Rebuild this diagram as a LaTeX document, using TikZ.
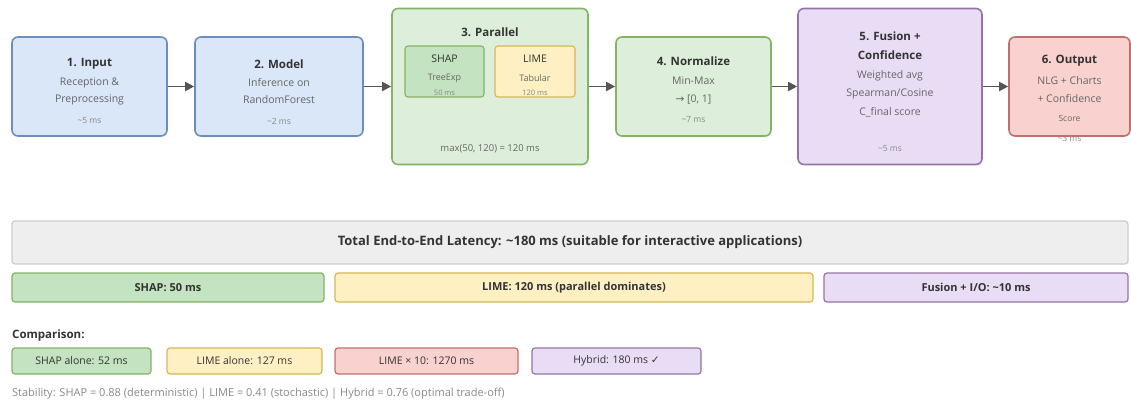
\documentclass[tikz,border=0pt]{standalone}
\usepackage{fontspec}
\setmainfont{Open Sans}
\newfontfamily\symfont{DejaVu Sans}
\usetikzlibrary{arrows.meta}
\usetikzlibrary{positioning}

\definecolor{blueFill}{HTML}{D9E7F8}
\definecolor{blueLine}{HTML}{6C8EBF}
\definecolor{greenFill}{HTML}{DDEFDA}
\definecolor{greenLine}{HTML}{82B366}
\definecolor{shapFill}{HTML}{C4E3C1}
\definecolor{limeFill}{HTML}{FFF0C4}
\definecolor{limeLine}{HTML}{D6B656}
\definecolor{purpleFill}{HTML}{E9DDF6}
\definecolor{purpleLine}{HTML}{9673A6}
\definecolor{redFill}{HTML}{F9D2D0}
\definecolor{redLine}{HTML}{C0706C}
\definecolor{greyFill}{HTML}{EEEEEE}
\definecolor{greyLine}{HTML}{CCCCCC}
\definecolor{arrowGrey}{HTML}{555555}
\definecolor{ink}{HTML}{333333}
\definecolor{softink}{HTML}{666666}
\definecolor{paleink}{HTML}{888888}

\tikzset{stage/.style={draw, rounded corners=6pt, line width=1.6pt, inner sep=0pt}}
\tikzset{subbox/.style={draw, rounded corners=3pt, line width=1.1pt, inner sep=0pt}}
\tikzset{bar/.style={draw, rounded corners=3pt, line width=1.2pt, inner sep=0pt}}
\tikzset{ttl/.style={text=ink, inner sep=0pt, font=\bfseries\fontsize{11.5}{14}\selectfont}}
\tikzset{txt/.style={text=softink, inner sep=0pt, font=\fontsize{10.5}{12}\selectfont}}
\tikzset{ms/.style={text=paleink, inner sep=0pt, font=\fontsize{8.5}{10}\selectfont}}
\tikzset{flow/.style={draw=arrowGrey, line width=1.8pt, -{Triangle[length=9pt,width=9pt]}}}

\begin{document}
\begin{tikzpicture}[x=1pt,y=-1pt]
  \useasboundingbox (0,0) rectangle (1131,403);

  % pipeline stages
  \foreach \x/\w/\h/\fc/\dc/\lab in {
    89.5/155/99/blueFill/blueLine/input,
    279/168/99/blueFill/blueLine/model,
    490/196/156/greenFill/greenLine/parallel,
    693.5/155/99/greenFill/greenLine/normalize,
    890/184/156/purpleFill/purpleLine/fusion,
    1069.5/121/99/redFill/redLine/output%
  } {
    \node[stage, fill=\fc, draw=\dc, minimum width=\w pt, minimum height=\h pt] (\lab) at (\x, 86.5) {};
  }
  \foreach \u/\v in {
    input/model,
    model/parallel,
    parallel/normalize,
    normalize/fusion,
    fusion/output%
  }{
    \draw[flow] (\u) -- (\v);
  }

  \node[ttl] (input-t) at (89.5,64) {1. Input};
  \node[txt] (input-a) at (89.5,83) {Reception \&};
  \node[txt] (input-b) at (89.5,100) {Preprocessing};
  \node[ms] (input-ms) at (89.5,121) {\textasciitilde5 ms};

  \node[ttl] (model-t) at (279,64) {2. Model};
  \node[txt] (model-a) at (279,83) {Inference on};
  \node[txt] (model-b) at (279,100) {RandomForest};
  \node[ms] (model-ms) at (279,121) {\textasciitilde2 ms};

  \node[ttl] (parallel-t) at (490,32) {3. Parallel};
  \node[subbox, fill=shapFill, draw=greenLine, minimum width=79pt, minimum height=51pt] (shap) at (444.5,71.5) {};
  \node[subbox, fill=limeFill, draw=limeLine, minimum width=80pt, minimum height=51pt] (lime) at (535,71.5) {};
  \node[txt, text=ink, font=\fontsize{10.5}{12}\selectfont] (shap-t) at (444.5,59) {SHAP};
  \node[ms, text=softink, font=\fontsize{9}{10}\selectfont] (shap-a) at (444.5,78) {TreeExp};
  \node[ms, font=\fontsize{7.5}{9}\selectfont] (shap-ms) at (444.5,93) {50 ms};
  \node[txt, text=ink, font=\fontsize{10.5}{12}\selectfont] (lime-t) at (535,59) {LIME};
  \node[ms, text=softink, font=\fontsize{9}{10}\selectfont] (lime-a) at (535,78) {Tabular};
  \node[ms, font=\fontsize{7.5}{9}\selectfont] (lime-ms) at (535,93) {120 ms};
  \node[ms, text=softink, font=\fontsize{9.5}{11}\selectfont] (parallel-ms) at (490,149) {max(50, 120) = 120 ms};

  \node[ttl] (normalize-t) at (693.5,61) {4. Normalize};
  \node[txt] (normalize-a) at (693.5,81) {Min-Max};
  \node[txt] (normalize-b) at (693.5,100) {{\symfont →} [0, 1]};
  \node[ms] (normalize-ms) at (693.5,120) {\textasciitilde7 ms};

  \node[ttl] (fusion-t) at (890,36) {5. Fusion +};
  \node[ttl] (fusion-u) at (890,55) {Confidence};
  \node[txt] (fusion-a) at (890,76) {Weighted avg};
  \node[txt] (fusion-b) at (890,94) {Spearman/Cosine};
  \node[txt] (fusion-c) at (890,112) {C\_final score};
  \node[ms] (fusion-ms) at (890,149) {\textasciitilde5 ms};

  \node[ttl] (output-t) at (1069.5,61) {6. Output};
  \node[txt] (output-a) at (1069.5,81) {NLG + Charts};
  \node[txt] (output-b) at (1069.5,99) {+ Confidence};
  \node[ms, text=softink, font=\fontsize{8.5}{10}\selectfont] (output-c) at (1069.5,118) {Score};
  \node[ms] (output-ms) at (1069.5,138) {\textasciitilde3 ms};

  % latency summary
  \node[bar, fill=greyFill, draw=greyLine, minimum width=1116pt, minimum height=43pt,
    text=ink, font=\bfseries\fontsize{13}{15}\selectfont] (total) at (570,242.5)
    {Total End-to-End Latency: \textasciitilde180 ms (suitable for interactive applications)};
  \foreach \x/\w/\fc/\dc/\lab/\txt in {
    168/312/shapFill/greenLine/shapbar/{SHAP: 50 ms},
    574/478/limeFill/limeLine/limebar/{LIME: 120 ms (parallel dominates)},
    976/304/purpleFill/purpleLine/fusionbar/{Fusion + I/O: \textasciitilde10 ms}%
  } {
    \node[bar, fill=\fc, draw=\dc, minimum width=\w pt, minimum height=29pt,
      text=ink, font=\bfseries\fontsize{11}{13}\selectfont] (\lab) at (\x,287.5) {\txt};
  }

  % comparison
  \node[anchor=west, inner sep=0pt, text=ink, font=\bfseries\fontsize{11.5}{13}\selectfont] (cmp) at (12,336) {Comparison:};
  \foreach \x/\w/\fc/\dc/\lab/\txt in {
    81.5/139/shapFill/greenLine/shapalone/{SHAP alone: 52 ms},
    244.5/155/limeFill/limeLine/limealone/{LIME alone: 127 ms},
    426.5/183/redFill/redLine/limeten/{LIME × 10: 1270 ms},
    616.5/169/purpleFill/purpleLine/hybrid/{Hybrid: 180 ms {\symfont ✓}}%
  } {
    \node[bar, fill=\fc, draw=\dc, minimum width=\w pt, minimum height=26pt,
      text=ink, font=\fontsize{10.5}{12}\selectfont] (\lab) at (\x,361) {\txt};
  }
  \node[anchor=west, inner sep=0pt, text=paleink, font=\fontsize{11}{13}\selectfont] (stab) at (12,394)
    {Stability: SHAP = 0.88 (deterministic) | LIME = 0.41 (stochastic) | Hybrid = 0.76 (optimal trade-off)};
\end{tikzpicture}
\end{document}
